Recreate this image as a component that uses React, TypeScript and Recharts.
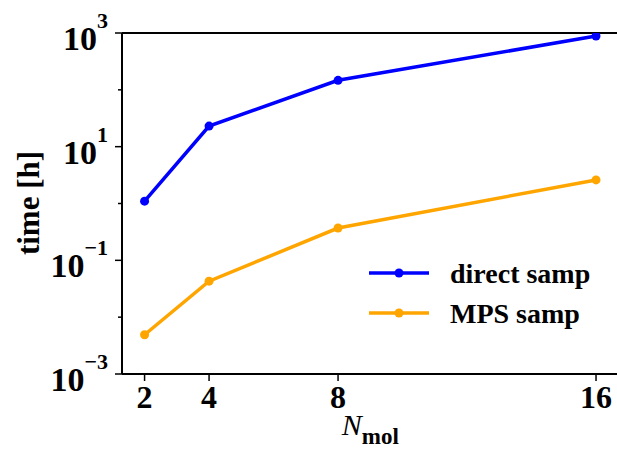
import React from 'react';
import { LineChart, Line, XAxis, YAxis, ReferenceLine } from 'recharts';

const nMol = [2, 4, 8, 16];
const directSamp = [1.1, 23, 147, 886];
const mpsSamp = [0.0049, 0.043, 0.37, 2.6];
const xTicks = [2, 4, 8, 16];
const yTicks = [0.001, 0.01, 0.1, 1, 10, 100, 1000];
const seriesNames = ['direct samp', 'MPS samp'];
const seriesColors = ['#0000ff', '#ffa500'];

const data = nMol.map((n, i) => ({ n, direct: directSamp[i], mps: mpsSamp[i] }));

const FONT = '"Liberation Serif", "Times New Roman", serif';

const YTick = (props: any) => {
  const { x, y, payload } = props;
  const e = Math.round(Math.log10(payload.value));
  const major = e % 2 !== 0;
  const exp = e < 0 ? '\u2212' + (-e) : String(e);
  return (
    <g>
      <line x1={x - (major ? 7 : 4)} x2={x} y1={y} y2={y} stroke="#000" strokeWidth={1.5} />
      {major && (
        <text x={x - 14} y={y + 17} textAnchor="end" fontFamily={FONT} fontWeight="bold" fontSize={34} fill="#000">
          10<tspan dy={-22} fontSize={22}>{exp}</tspan>
        </text>
      )}
    </g>
  );
};

const XTick = (props: any) => {
  const { x, y, payload } = props;
  return (
    <g>
      <line x1={x} x2={x} y1={y} y2={y + 7} stroke="#000" strokeWidth={1.5} />
      <text x={x} y={y + 34} textAnchor="middle" fontFamily={FONT} fontWeight="bold" fontSize={32} fill="#000">
        {payload.value}
      </text>
    </g>
  );
};

const XLabel = (props: any) => {
  const vb = props.viewBox || { x: 122, width: 497 };
  const cx = vb.x + vb.width / 2;
  return (
    <text x={cx} y={435} textAnchor="middle" fontFamily={FONT} fill="#000">
      <tspan fontStyle="italic" fontSize={30}>N</tspan>
      <tspan dy={9} fontSize={23} fontWeight="bold">mol</tspan>
    </text>
  );
};

const YLabel = () => (
  <text x={39} y={203} transform="rotate(-90, 39, 203)" textAnchor="middle" fontFamily={FONT} fontWeight="bold" fontSize={31} fill="#000">
    time [h]
  </text>
);

export default function App() {
  return (
    <div style={{ position: 'absolute', left: 0, top: 0, width: 617, height: 449, overflow: 'hidden', background: '#fff' }}>
      <LineChart width={620} height={449} data={data} margin={{ top: 33, right: 1.4, bottom: 0, left: 0 }}>
        <XAxis
          dataKey="n"
          type="number"
          domain={[1.3, 16.7]}
          ticks={xTicks}
          allowDataOverflow
          height={75}
          tickSize={0}
          tickMargin={0}
          tickLine={false}
          tick={<XTick />}
          axisLine={{ stroke: '#000', strokeWidth: 2 }}
          label={{ content: <XLabel /> } as any}
        />
        <YAxis
          type="number"
          scale="log"
          domain={[0.001, 1000]}
          ticks={yTicks}
          allowDataOverflow
          width={122}
          tickSize={0}
          tickMargin={0}
          tickLine={false}
          tick={<YTick />}
          axisLine={{ stroke: '#000', strokeWidth: 2 }}
          label={{ content: <YLabel /> } as any}
        />
        <ReferenceLine y={1000} stroke="#000" strokeWidth={2} ifOverflow="visible" />
        <Line dataKey="direct" name={seriesNames[0]} stroke={seriesColors[0]} strokeWidth={3.5} dot={{ r: 4.5, fill: seriesColors[0], stroke: seriesColors[0], strokeWidth: 0 }} isAnimationActive={false} />
        <Line dataKey="mps" name={seriesNames[1]} stroke={seriesColors[1]} strokeWidth={3.5} dot={{ r: 4.5, fill: seriesColors[1], stroke: seriesColors[1], strokeWidth: 0 }} isAnimationActive={false} />
      </LineChart>
      <svg width={250} height={90} style={{ position: 'absolute', left: 360, top: 250 }}>
        {seriesNames.map((name, i) => (
          <g key={name}>
            <line x1={9} x2={69} y1={23 + i * 40} y2={23 + i * 40} stroke={seriesColors[i]} strokeWidth={3.5} />
            <circle cx={39} cy={23 + i * 40} r={4.5} fill={seriesColors[i]} />
            <text x={90} y={33 + i * 40} fontFamily={FONT} fontWeight="bold" fontSize={28} fill="#000">{name}</text>
          </g>
        ))}
      </svg>
    </div>
  );
}
